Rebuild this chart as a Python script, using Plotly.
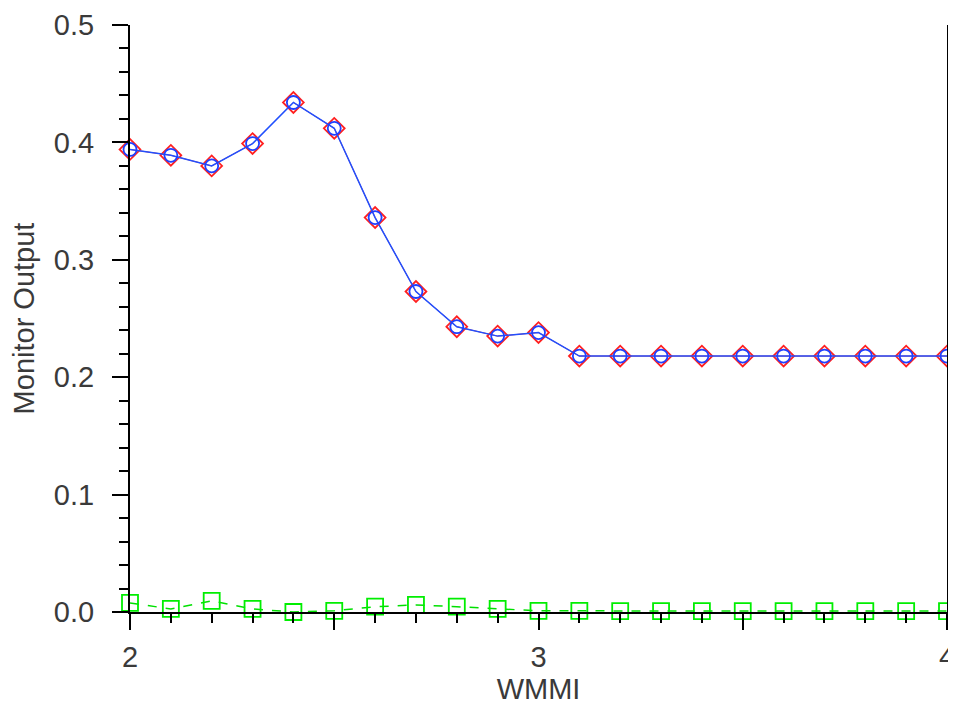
import plotly.graph_objects as go

wmmi = [2.0, 2.1, 2.2, 2.3, 2.4, 2.5, 2.6, 2.7, 2.8, 2.9, 3.0,
        3.1, 3.2, 3.3, 3.4, 3.5, 3.6, 3.7, 3.8, 3.9, 4.0]
red_vals = [0.394, 0.389, 0.380, 0.399, 0.434, 0.412, 0.336, 0.273, 0.243, 0.235, 0.238,
            0.218, 0.218, 0.218, 0.218, 0.218, 0.218, 0.218, 0.218, 0.218, 0.218]
blue_vals = [0.394, 0.389, 0.380, 0.399, 0.434, 0.412, 0.336, 0.273, 0.243, 0.235, 0.238,
             0.218, 0.218, 0.218, 0.218, 0.218, 0.218, 0.218, 0.218, 0.218, 0.218]
green_vals = [0.0077, 0.0026, 0.0094, 0.0026, 0.0, 0.001, 0.0045, 0.006, 0.0045, 0.0026, 0.001,
              0.001, 0.0008, 0.0008, 0.0008, 0.0008, 0.0008, 0.0008, 0.0008, 0.0008, 0.0008]

x_tickvals = [2, 2.5, 3, 3.5, 4]
x_ticktext = ["2", "", "3", "", "4"]
y_tickvals = [0.0, 0.1, 0.2, 0.3, 0.4, 0.5]
y_ticktext = ["0.0", "0.1", "0.2", "0.3", "0.4", "0.5"]

FONT = "Liberation Sans, Arial, sans-serif"

fig = go.Figure()
fig.add_trace(go.Scatter(
    x=wmmi, y=green_vals, mode="lines+markers",
    line=dict(color="#00E000", width=1.5, dash="dash"),
    marker=dict(symbol="square-open", size=16, color="#00EE00", line=dict(width=1.8)),
    cliponaxis=False, showlegend=False))
fig.add_trace(go.Scatter(
    x=wmmi, y=red_vals, mode="lines+markers",
    line=dict(color="#FF3030", width=1.0),
    marker=dict(symbol="diamond-open", size=16, color="#FF2020", line=dict(width=1.8)),
    cliponaxis=False, showlegend=False))
fig.add_trace(go.Scatter(
    x=wmmi, y=blue_vals, mode="lines+markers",
    line=dict(color="#2050FF", width=1.5),
    marker=dict(symbol="circle-open", size=13, color="#2040FF", line=dict(width=1.8)),
    cliponaxis=False, showlegend=False))

fig.update_layout(
    width=948, height=697,
    margin=dict(l=122, r=9, t=17, b=93),
    paper_bgcolor="white", plot_bgcolor="white",
    font=dict(family=FONT, size=29, color="#3a3a3a"),
    xaxis=dict(
        range=[2, 4], showgrid=False, zeroline=False, automargin=False,
        showline=True, linecolor="black", linewidth=2,
        ticks="outside", ticklen=16, tickwidth=2, tickcolor="black",
        tickvals=x_tickvals, ticktext=x_ticktext, ticklabeloverflow="allow",
        minor=dict(dtick=0.1, ticks="outside", ticklen=9, tickwidth=2, tickcolor="black"),
        ticklabelstandoff=2,
        title=dict(text="WMMI", standoff=6, font=dict(size=29)),
    ),
    yaxis=dict(
        range=[0, 0.5], showgrid=False, zeroline=False, automargin=False,
        showline=True, linecolor="black", linewidth=2, mirror=True,
        ticks="outside", ticklen=16, tickwidth=2, tickcolor="black",
        tickvals=y_tickvals, ticktext=y_ticktext, ticklabeloverflow="allow",
        minor=dict(dtick=0.02, ticks="outside", ticklen=9, tickwidth=2, tickcolor="black"),
        ticklabelstandoff=12,
        title=dict(text="Monitor Output", standoff=18, font=dict(size=29)),
    ),
)

fig.write_html("out.html")
